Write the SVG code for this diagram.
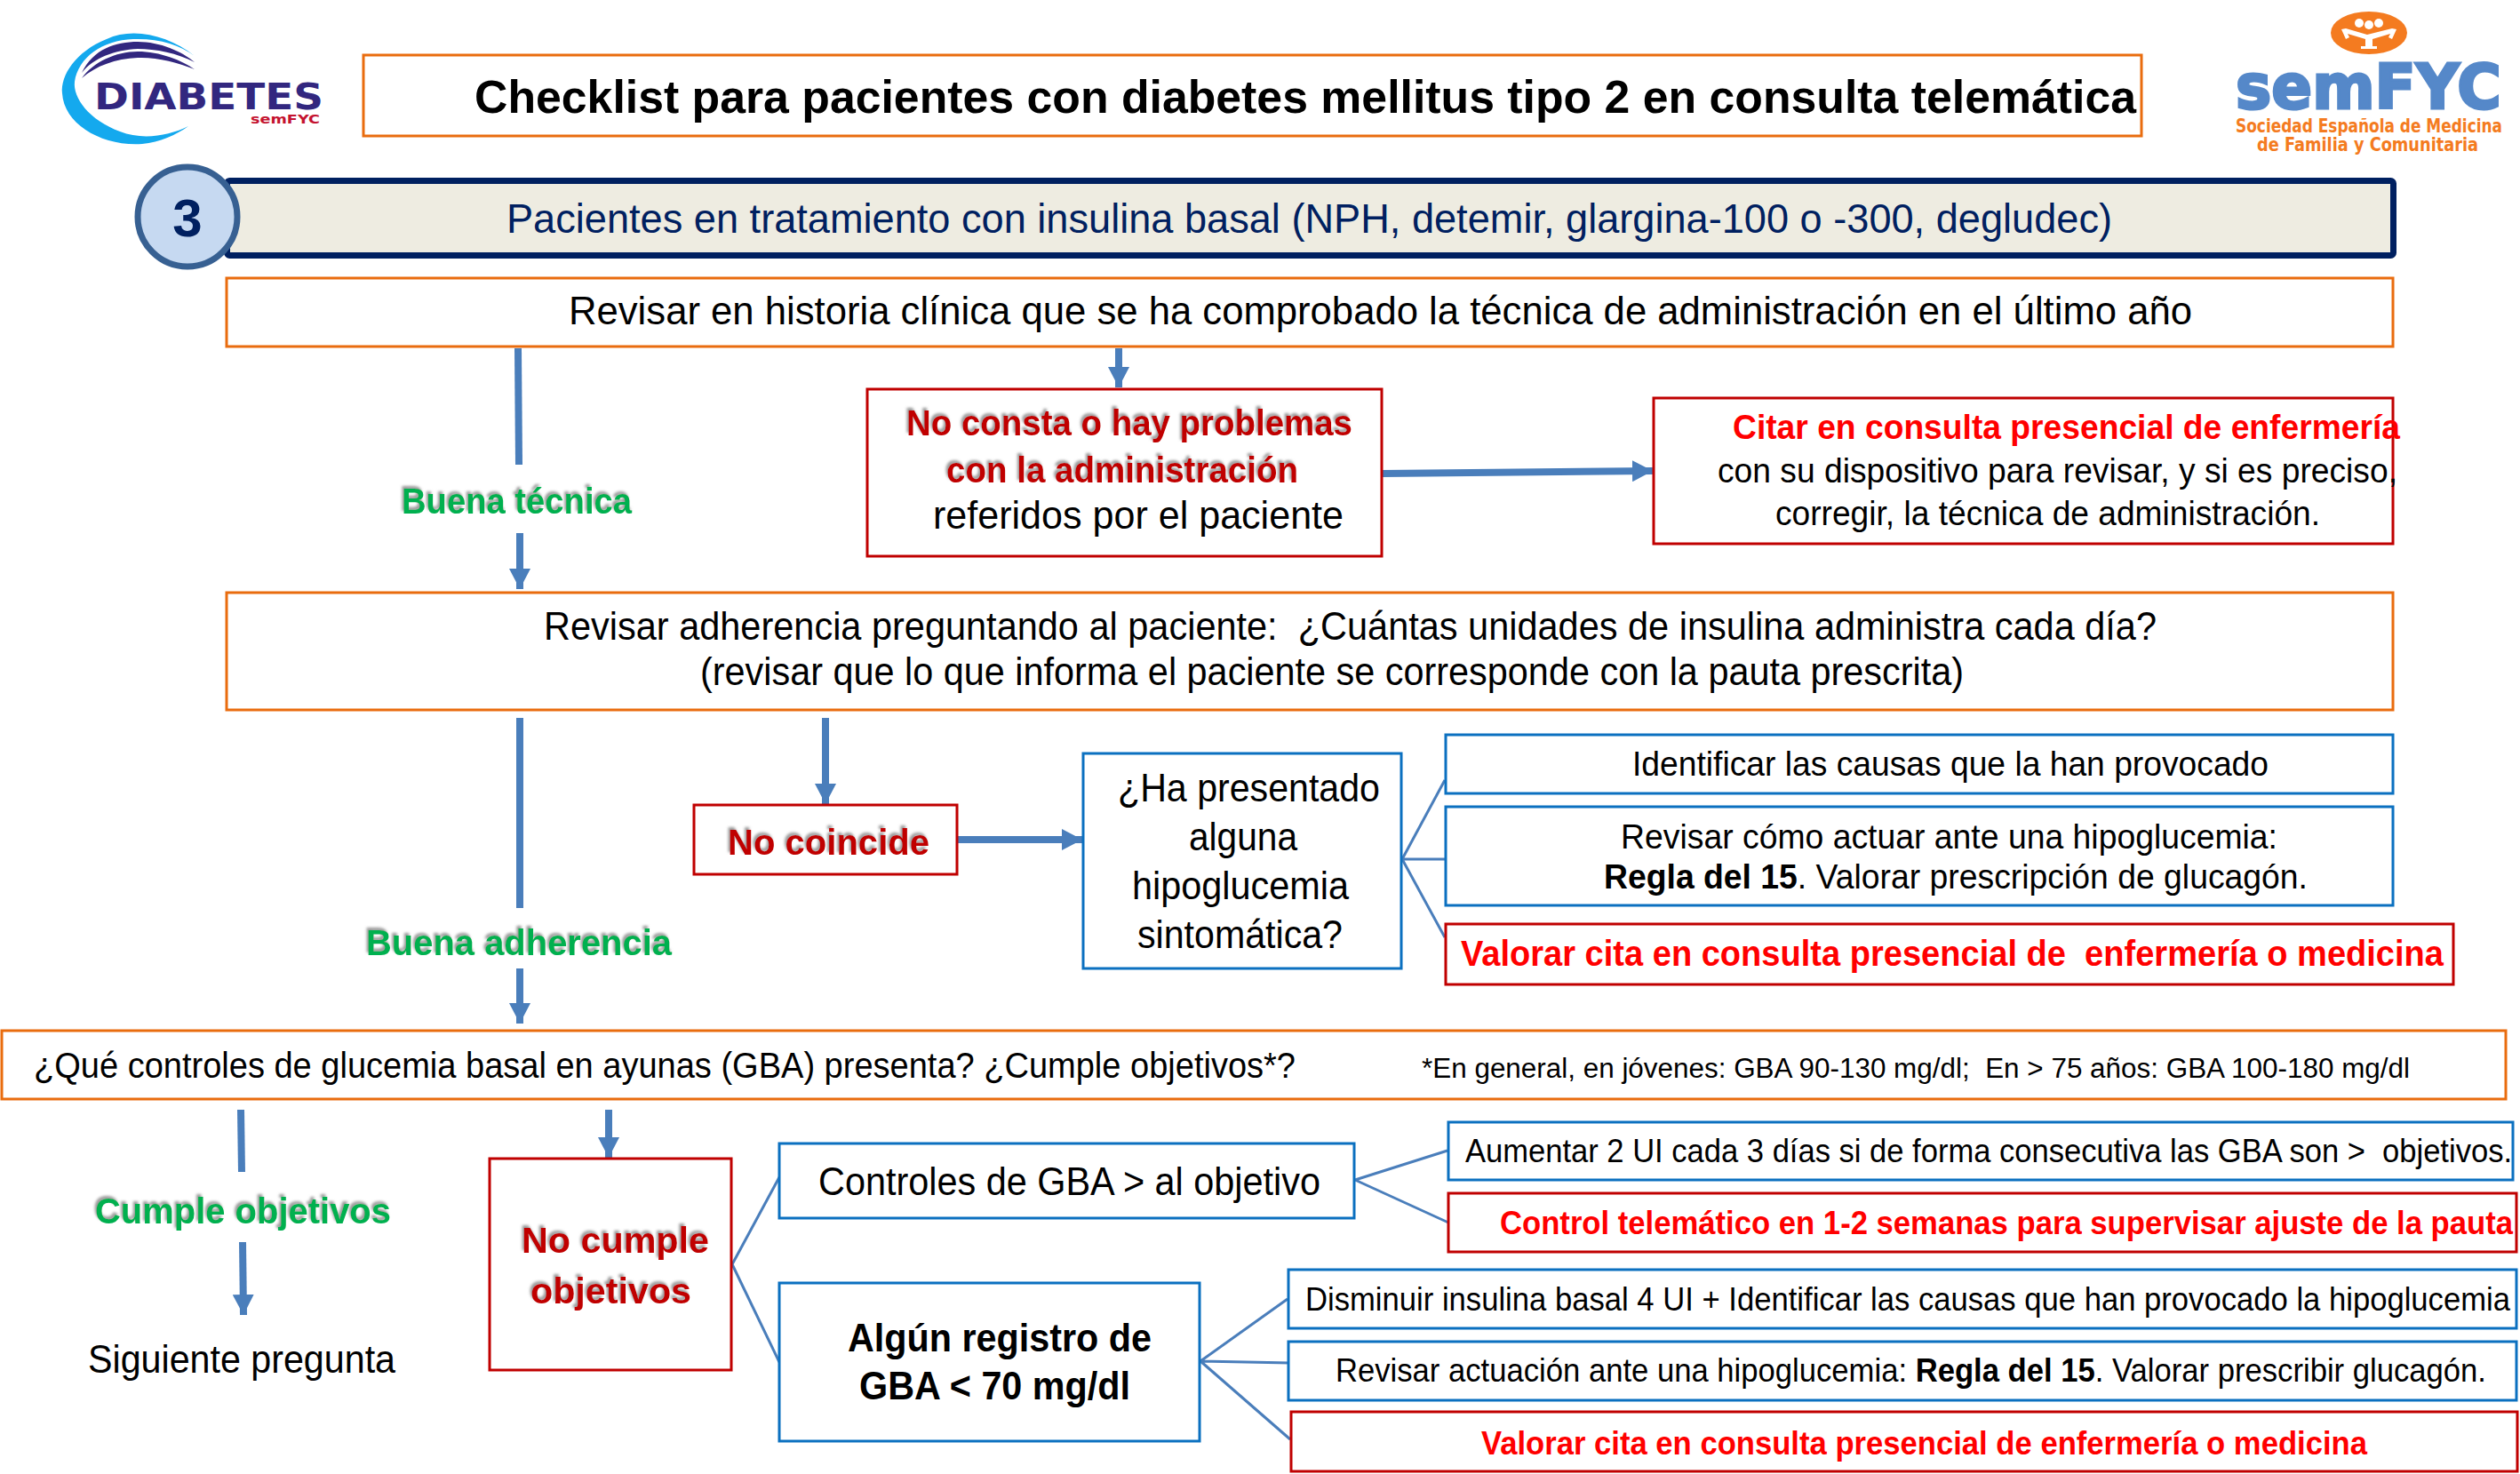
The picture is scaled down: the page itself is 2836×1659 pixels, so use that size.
<svg xmlns="http://www.w3.org/2000/svg" width="2836" height="1659" viewBox="0 0 2836 1659">
<defs>
<style>
text{font-family:"Liberation Sans",Arial,sans-serif;fill:#000;font-size:44px;white-space:pre}
.m{text-anchor:middle}
.b{font-weight:700}
.r{fill:#c00000;font-weight:700}
.rr{fill:#f00;font-weight:700}
.g{fill:#00b050;font-weight:700}
.box{fill:#fff;stroke-width:3}
.o{stroke:#e96c0e}
.red{stroke:#c00000}
.blu{stroke:#0b70c0}
.ln{stroke:#4a7ebb;stroke-width:3;fill:none}
.sh0{stroke:#4a7ebb;stroke-width:8;fill:none}
.ar{stroke:#4a7ebb;stroke-width:8;fill:none;marker-end:url(#ah)}
.sh{filter:url(#ts)}
.logo{font-family:"DejaVu Sans",sans-serif;font-weight:700}
</style>
<marker id="ah" markerUnits="userSpaceOnUse" markerWidth="24" markerHeight="24" refX="23" refY="12" orient="auto"><path d="M0 0L23 12L0 24Z" fill="#4a7ebb"/></marker>
<filter id="ts" x="-10%" y="-30%" width="120%" height="160%"><feDropShadow dx="-2" dy="-3" stdDeviation="1.500" flood-color="#808080" flood-opacity=".8"/></filter>
</defs>
<rect width="2836" height="1659" fill="#fff"/>

<g id="logo-diabetes">
<path d="M219 63C190 40 150 30 120 44C85 58 68 85 70 105C72 140 115 165 160 162C180 160 198 152 212 142C190 153 160 158 135 148C100 135 82 110 84 92C88 65 115 45 150 44C178 43 202 50 219 63Z" fill="#14a9ee"/>
<path d="M92 82C105 55 130 47 155 47C180 47 205 58 219 70C200 60 175 55 155 55C130 56 105 65 92 82Z" fill="#32277f"/>
<path d="M92 88C105 70 130 58 155 58C180 58 205 68 219 78C200 70 175 64 155 65C130 66 108 74 92 88Z" fill="#32277f"/>
<text class="logo" x="106" y="123" textLength="258" lengthAdjust="spacingAndGlyphs" style="fill:#32277f;font-size:41px">DIABETES</text>
<text class="logo" x="282" y="139" textLength="78" lengthAdjust="spacingAndGlyphs" style="fill:#c4122f;font-size:14px">semFYC</text>
</g>

<g id="logo-semfyc">
<ellipse cx="2666" cy="37" rx="43" ry="24" fill="#f47b20"/>
<g fill="#fff"><circle cx="2655" cy="26" r="5"/><circle cx="2666" cy="28" r="5"/><circle cx="2677" cy="26" r="5"/>
<path d="M2635 33L2640 44L2644 42L2642 38L2662 44V52H2657V55H2675V52H2670V44L2690 38L2688 42L2692 44L2697 33L2692 32L2664 39L2640 32Z"/></g>
<text class="logo" x="2516" y="122" textLength="299" lengthAdjust="spacingAndGlyphs" style="fill:#5588c9;font-size:70px;stroke:#5588c9;stroke-width:3">semFYC</text>
<text class="logo" x="2516" y="149" textLength="300" lengthAdjust="spacingAndGlyphs" style="fill:#f47b20;font-size:21px">Sociedad Española de Medicina</text>
<text class="logo" x="2540" y="170" textLength="249" lengthAdjust="spacingAndGlyphs" style="fill:#f47b20;font-size:21px">de Familia y Comunitaria</text>
</g>

<g id="connectors">
<path class="sh0" d="M583 392L584 523"/>
<path class="ar" d="M585 600V663" />
<path class="ar" d="M1259 392V436"/>
<path class="ar" d="M1556 533L1860 530"/>
<path class="sh0" d="M585 808V1022"/>
<path class="ar" d="M585 1090V1152"/>
<path class="ar" d="M929 808V905"/>
<path class="ar" d="M1078 945H1218"/>
<path class="ln" d="M1578 967L1626 878M1578 967H1626M1578 967L1626 1055"/>
<path class="sh0" d="M271 1249L272 1319"/>
<path class="ar" d="M273 1398L274 1480"/>
<path class="ar" d="M685 1249V1303"/>
<path class="ln" d="M824 1423L877 1325M824 1423L877 1533"/>
<path class="ln" d="M1525 1328L1629 1295M1525 1328L1630 1376"/>
<path class="ln" d="M1351 1532L1449 1462M1351 1532L1452 1534M1351 1532L1452 1620"/>
</g>

<g id="title"><rect class="box o" x="409" y="62" width="2001" height="91"/>
<text class="b" x="534" y="127" textLength="1870" lengthAdjust="spacingAndGlyphs" style="font-size:52px">Checklist para pacientes con diabetes mellitus tipo 2 en consulta telemática</text></g>

<g id="header"><rect x="255.500" y="203.500" width="2438" height="84" rx="3" fill="#eeece1" stroke="#002060" stroke-width="7"/>
<text x="570" y="262" textLength="1807" lengthAdjust="spacingAndGlyphs" style="fill:#002060;font-size:46px">Pacientes en tratamiento con insulina basal (NPH, detemir, glargina-100 o -300, degludec)</text></g>
<g id="step-3"><circle cx="211" cy="244" r="56" fill="#c6d9f1" stroke="#376092" stroke-width="7"/>
<text class="b m" x="211" y="266" style="fill:#002060;font-size:60px">3</text></g>

<g id="tecnica"><rect class="box o" x="255" y="313" width="2438" height="77"/>
<text x="640" y="365" textLength="1827" lengthAdjust="spacingAndGlyphs">Revisar en historia clínica que se ha comprobado la técnica de administración en el último año</text></g>

<g id="no-consta"><rect class="box red" x="976" y="438" width="579" height="188"/>
<text class="r sh" x="1020" y="490" textLength="502" lengthAdjust="spacingAndGlyphs" style="font-size:40px">No consta o hay problemas</text>
<text class="r sh" x="1065" y="543" textLength="396" lengthAdjust="spacingAndGlyphs" style="font-size:40px">con la administración</text>
<text x="1050" y="595" textLength="462" lengthAdjust="spacingAndGlyphs">referidos por el paciente</text></g>

<g id="citar"><rect class="box red" x="1861" y="448" width="832" height="164"/>
<text class="rr" x="1950" y="494" textLength="751" lengthAdjust="spacingAndGlyphs" style="font-size:38px">Citar en consulta presencial de enfermería</text>
<text x="1933" y="543" textLength="765" lengthAdjust="spacingAndGlyphs" style="font-size:38px">con su dispositivo para revisar, y si es preciso,</text>
<text x="1998" y="591" textLength="613" lengthAdjust="spacingAndGlyphs" style="font-size:38px">corregir, la técnica de administración.</text></g>

<text id="buena-tecnica" class="g sh" x="452" y="578" textLength="259" lengthAdjust="spacingAndGlyphs" style="font-size:40px">Buena técnica</text>

<g id="adherencia"><rect class="box o" x="255" y="667" width="2438" height="132"/>
<text x="612" y="720" textLength="1815" lengthAdjust="spacingAndGlyphs" xml:space="preserve">Revisar adherencia preguntando al paciente:  ¿Cuántas unidades de insulina administra cada día?</text>
<text x="788" y="771" textLength="1422" lengthAdjust="spacingAndGlyphs">(revisar que lo que informa el paciente se corresponde con la pauta prescrita)</text></g>

<g id="no-coincide"><rect class="box red" x="781" y="906" width="296" height="78"/>
<text class="r sh" x="819" y="962" textLength="227" lengthAdjust="spacingAndGlyphs" style="font-size:40px">No coincide</text></g>

<g id="ha-presentado"><rect class="box blu" x="1219" y="848" width="358" height="242"/>
<text x="1258" y="902" textLength="295" lengthAdjust="spacingAndGlyphs">¿Ha presentado</text>
<text x="1338" y="957" textLength="122" lengthAdjust="spacingAndGlyphs">alguna</text>
<text x="1274" y="1012" textLength="244" lengthAdjust="spacingAndGlyphs">hipoglucemia</text>
<text x="1280" y="1067" textLength="231" lengthAdjust="spacingAndGlyphs">sintomática?</text></g>

<g id="causas"><rect class="box blu" x="1627" y="827" width="1066" height="66"/>
<text x="1837" y="873" textLength="716" lengthAdjust="spacingAndGlyphs" style="font-size:38px">Identificar las causas que la han provocado</text></g>
<g id="regla"><rect class="box blu" x="1627" y="908" width="1066" height="111"/>
<text x="1824" y="955" textLength="739" lengthAdjust="spacingAndGlyphs" style="font-size:38px">Revisar cómo actuar ante una hipoglucemia:</text>
<text x="1805" y="1000" textLength="792" lengthAdjust="spacingAndGlyphs" style="font-size:38px"><tspan class="b">Regla del 15</tspan>. Valorar prescripción de glucagón.</text></g>
<g id="valorar-1"><rect class="box red" x="1627" y="1040" width="1134" height="68"/>
<text class="rr" x="1644" y="1087" textLength="1106" lengthAdjust="spacingAndGlyphs" xml:space="preserve" style="font-size:40px">Valorar cita en consulta presencial de  enfermería o medicina</text></g>

<text id="buena-adherencia" class="g sh" x="412" y="1075" textLength="344" lengthAdjust="spacingAndGlyphs" style="font-size:40px">Buena adherencia</text>

<g id="gba"><rect class="box o" x="2" y="1160" width="2818" height="77"/>
<text x="38" y="1213" textLength="1420" lengthAdjust="spacingAndGlyphs" style="font-size:40px">¿Qué controles de glucemia basal en ayunas (GBA) presenta? ¿Cumple objetivos*?</text>
<text x="1600" y="1213" textLength="1112" lengthAdjust="spacingAndGlyphs" xml:space="preserve" style="font-size:31px">*En general, en jóvenes: GBA 90-130 mg/dl;  En &gt; 75 años: GBA 100-180 mg/dl</text></g>

<text id="cumple" class="g sh" x="107" y="1377" textLength="333" lengthAdjust="spacingAndGlyphs" style="font-size:40px">Cumple objetivos</text>
<text id="siguiente" x="99" y="1545" textLength="346" lengthAdjust="spacingAndGlyphs">Siguiente pregunta</text>

<g id="no-cumple"><rect class="box red" x="551" y="1304" width="272" height="238"/>
<text class="r sh" x="587" y="1410" textLength="211" lengthAdjust="spacingAndGlyphs" style="font-size:40px">No cumple</text>
<text class="r sh" x="597" y="1467" textLength="181" lengthAdjust="spacingAndGlyphs" style="font-size:40px">objetivos</text></g>

<g id="controles"><rect class="box blu" x="877" y="1287" width="647" height="84"/>
<text x="921" y="1345" textLength="565" lengthAdjust="spacingAndGlyphs">Controles de GBA &gt; al objetivo</text></g>
<g id="registro"><rect class="box blu" x="877" y="1444" width="473" height="178"/>
<text class="b" x="954" y="1521" textLength="342" lengthAdjust="spacingAndGlyphs">Algún registro de</text>
<text class="b" x="967" y="1575" textLength="305" lengthAdjust="spacingAndGlyphs">GBA &lt; 70 mg/dl</text></g>

<g id="aumentar"><rect class="box blu" x="1630" y="1263" width="1198" height="65"/>
<text x="1649" y="1308" textLength="1178" lengthAdjust="spacingAndGlyphs" xml:space="preserve" style="font-size:36px">Aumentar 2 UI cada 3 días si de forma consecutiva las GBA son &gt;  objetivos.</text></g>
<g id="control"><rect class="box red" x="1630" y="1343" width="1202" height="66"/>
<text class="rr" x="1688" y="1389" textLength="1140" lengthAdjust="spacingAndGlyphs" style="font-size:36px">Control telemático en 1-2 semanas para supervisar ajuste de la pauta</text></g>
<g id="disminuir"><rect class="box blu" x="1450" y="1429" width="1382" height="66"/>
<text x="1469" y="1475" textLength="1356" lengthAdjust="spacingAndGlyphs" style="font-size:36px">Disminuir insulina basal 4 UI + Identificar las causas que han provocado la hipoglucemia</text></g>
<g id="revisar"><rect class="box blu" x="1450" y="1510" width="1382" height="66"/>
<text x="1503" y="1555" textLength="1295" lengthAdjust="spacingAndGlyphs" style="font-size:36px">Revisar actuación ante una hipoglucemia: <tspan class="b">Regla del 15</tspan>. Valorar prescribir glucagón.</text></g>
<g id="valorar-2"><rect class="box red" x="1453" y="1589" width="1380" height="67"/>
<text class="rr" x="1667" y="1637" textLength="997" lengthAdjust="spacingAndGlyphs" style="font-size:36px">Valorar cita en consulta presencial de enfermería o medicina</text></g>
</svg>
